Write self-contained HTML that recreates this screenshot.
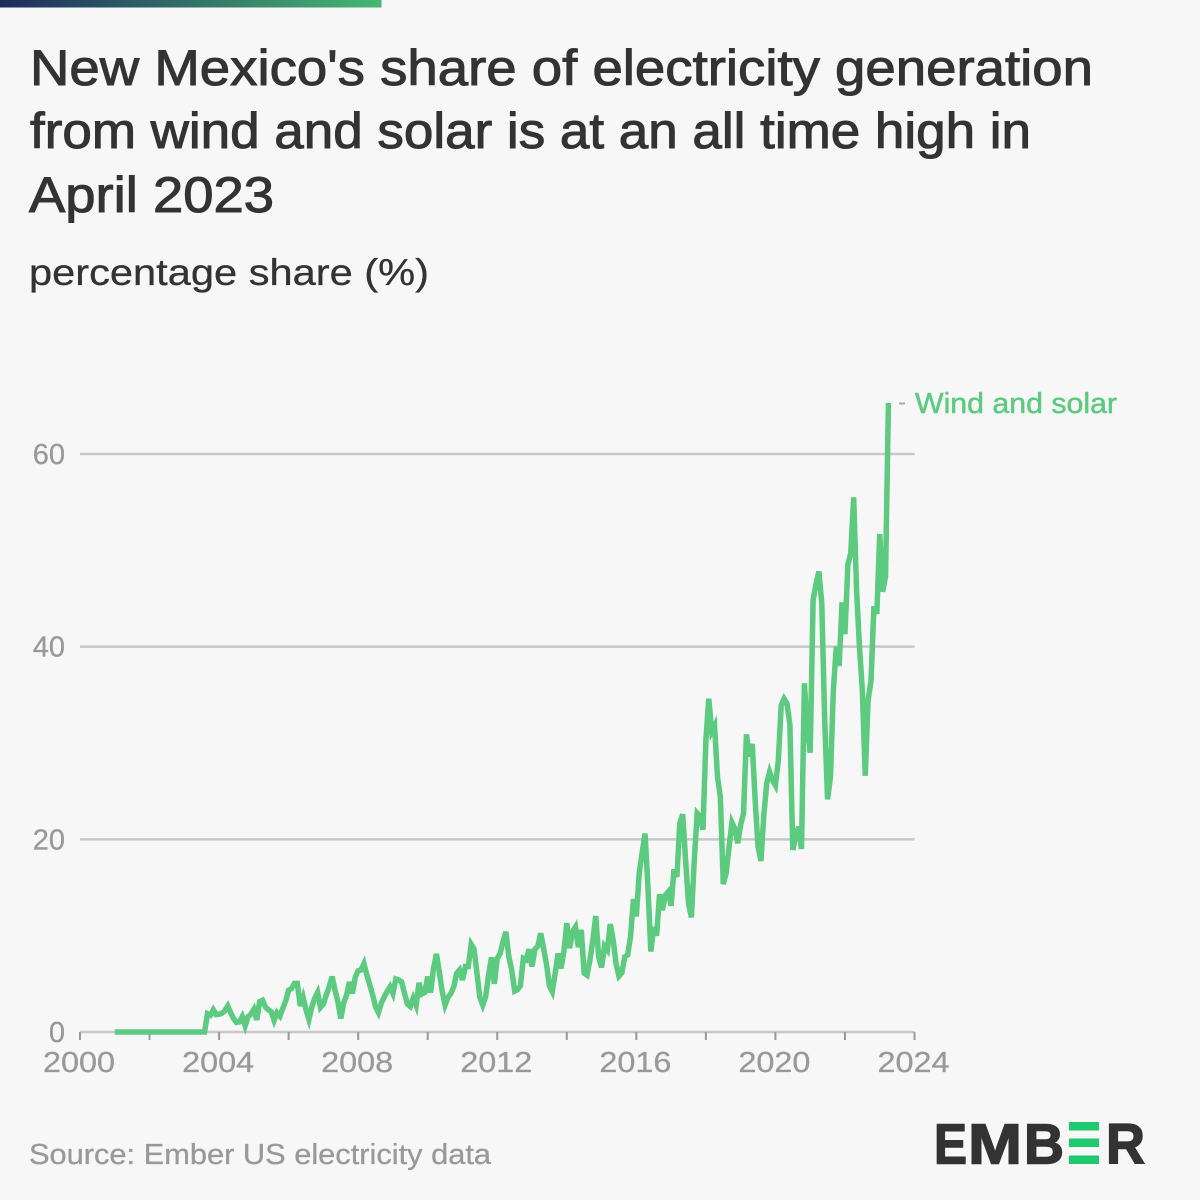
<!DOCTYPE html>
<html lang="en">
<head>
<meta charset="utf-8">
<title>New Mexico wind and solar share</title>
<style>
  html, body { margin: 0; padding: 0; background: #f7f7f7; }
  #chart-root { display: block; width: 1200px; height: 1200px; }
  text { font-family: "Liberation Sans", sans-serif; }
</style>
</head>
<body>
<svg id="chart-root" xmlns="http://www.w3.org/2000/svg" width="1200" height="1200" viewBox="0 0 1200 1200">
  <defs>
    <linearGradient id="barGrad" x1="0" y1="0" x2="1" y2="0">
      <stop offset="0" stop-color="#1e2a5e"/>
      <stop offset="1" stop-color="#47b872"/>
    </linearGradient>
  </defs>
  <rect x="0" y="0" width="1200" height="1200" fill="#f7f7f7"/>
  <rect x="0" y="0" width="381.5" height="7.5" fill="url(#barGrad)"/>

  <g fill="#333333" stroke="#333333" stroke-width="1" font-size="50">
    <text x="30" y="85" textLength="1063" lengthAdjust="spacingAndGlyphs">New Mexico's share of electricity generation</text>
    <text x="30" y="148" textLength="1001" lengthAdjust="spacingAndGlyphs">from wind and solar is at an all time high in</text>
    <text x="29" y="212" textLength="245" lengthAdjust="spacingAndGlyphs">April 2023</text>
  </g>
  <text x="29" y="285" font-size="37" fill="#333333" stroke="#333333" stroke-width="0.3" textLength="400" lengthAdjust="spacingAndGlyphs">percentage share (%)</text>

  <g id="grid-layer"></g>
  <g id="x-axis-layer"></g>
  <g id="y-axis-layer"></g>
  <path id="series-line" fill="none" stroke="#5ccb80" stroke-width="5.5" stroke-linejoin="miter"></path>
  <line id="series-leader" x1="899" x2="905" stroke="#aaaaaa" stroke-width="2"></line>
  <text id="series-label" x="915" font-size="29" fill="#5ccb80" stroke="#5ccb80" stroke-width="0.5" textLength="202" lengthAdjust="spacingAndGlyphs">Wind and solar</text>

  <text x="29" y="1164" font-size="29" fill="#999999" stroke="#999999" stroke-width="0.3" textLength="462" lengthAdjust="spacingAndGlyphs">Source: Ember US electricity data</text>

  <g fill="#333333" stroke="#333333" stroke-width="1.5" font-size="57" font-weight="bold">
    <text x="934" y="1163.5" textLength="33" lengthAdjust="spacingAndGlyphs">E</text>
    <text x="968" y="1163.5" textLength="54" lengthAdjust="spacingAndGlyphs">M</text>
    <text x="1024" y="1163.5" textLength="40" lengthAdjust="spacingAndGlyphs">B</text>
    <rect x="1069" y="1122" width="30" height="8.5" fill="#1fc96f" stroke="none"/>
    <rect x="1069" y="1138.5" width="30" height="8.5" fill="#1fc96f" stroke="none"/>
    <rect x="1069" y="1155.5" width="30" height="8.5" fill="#1fc96f" stroke="none"/>
    <text x="1106" y="1163.5" textLength="39" lengthAdjust="spacingAndGlyphs">R</text>
  </g>
</svg>

<script>
// Chart data: monthly values starting at January 2001
const seriesName = "Wind and solar";
const startYear = 2001;
const shareValues = [
  0,0,0,0,0,0,0,0,0,0,0,0,
  0,0,0,0,0,0,0,0,0,0,0,0,
  0,0,0,0,0,0,0,0,1.9,1.75,2.3,1.8,
  1.85,1.95,2.2,2.7,2.0,1.4,1.0,1.05,1.6,0.65,1.6,1.85,
  2.35,1.25,3.15,3.3,2.6,2.3,2.1,1.2,2.0,1.65,2.45,3.25,
  4.35,4.5,5.05,5.05,2.7,3.6,2.3,1.3,2.6,3.5,4.1,2.55,
  2.9,3.85,4.7,5.75,4.35,3.15,1.4,3.0,3.85,5.2,4.0,5.7,
  6.35,6.45,7.1,5.9,4.9,3.85,2.6,2.0,3.0,3.65,4.2,4.7,
  4.0,5.5,5.4,5.2,4.0,2.9,2.65,3.5,2.75,5.1,3.95,4.1,
  5.75,4.1,6.6,8.1,6.25,4.2,2.8,3.6,4.0,4.7,6.1,6.45,
  5.4,6.8,6.8,9.1,8.6,6.1,3.6,2.8,3.65,5.9,7.75,5.0,
  7.65,8.15,9.4,10.4,7.8,6.45,4.25,4.4,4.8,7.65,7.5,8.6,
  6.8,8.6,8.9,10.25,8.7,7.0,4.8,4.2,6.1,8.15,6.6,8.35,
  11.3,8.7,10.4,10.9,8.8,10.6,6.1,5.9,7.5,9.55,12.05,7.8,
  6.7,8.9,8.5,11.2,9.55,7.1,5.8,6.15,7.8,8.0,9.9,13.8,
  12.0,16.5,18.6,20.6,15.1,8.35,10.9,10.0,14.3,12.65,14.2,14.55,
  13.1,16.9,16.1,21.7,22.6,17.85,13.35,11.9,17.85,22.7,22.35,21.0,
  30.3,34.6,31.2,31.8,26.5,24.4,15.35,16.5,19.2,21.75,21.1,19.6,
  21.5,22.7,30.9,28.6,29.9,24.1,19.25,17.75,22.5,25.8,27.0,26.15,
  25.6,28.2,33.9,34.6,34.1,31.9,18.9,20.3,21.3,19.0,36.2,31.5,
  29.0,44.8,46.5,47.8,44.5,32.4,24.15,26.5,35.5,40.0,38.0,44.6,
  41.3,48.5,49.7,55.5,45.9,40.0,35.5,26.6,34.5,36.5,44.2,43.4,
  51.7,45.7,47.3,65.3
];
const yTickValues = [0, 20, 40, 60];
const xTickYears = [2000, 2002, 2004, 2006, 2008, 2010, 2012, 2014, 2016, 2018, 2020, 2022, 2024];
const xLabelYears = [2000, 2004, 2008, 2012, 2016, 2020, 2024];

// Axis functions
const plotLeft = 80, plotRight = 914.5, plotBottom = 1032, pxPerUnit = 9.633;
const domainStart = 2000, domainEnd = 2024;
function xScale(year) {
  return plotLeft + (year - domainStart) / (domainEnd - domainStart) * (plotRight - plotLeft);
}
function yScale(value) {
  return plotBottom - value * pxPerUnit;
}

const NS = "http://www.w3.org/2000/svg";
const gridLayer = document.getElementById("grid-layer");
const xLayer = document.getElementById("x-axis-layer");
const yLayer = document.getElementById("y-axis-layer");

yTickValues.forEach(function (v) {
  const line = document.createElementNS(NS, "line");
  
  
  line.setAttribute("x1", plotLeft);
  line.setAttribute("x2", plotRight);
  line.setAttribute("y1", yScale(v));
  line.setAttribute("y2", yScale(v));
  line.setAttribute("stroke", "#c8c8c8");
  line.setAttribute("stroke-width", "2.5");
  gridLayer.appendChild(line);

  const label = document.createElementNS(NS, "text");
  
  
  label.setAttribute("x", 65);
  label.setAttribute("y", yScale(v) + 10);
  label.setAttribute("text-anchor", "end");
  label.setAttribute("font-size", "29");
  label.setAttribute("fill", "#999999");
  label.setAttribute("stroke", "#999999");
  label.setAttribute("stroke-width", "0.3");
  label.textContent = String(v);
  yLayer.appendChild(label);
});

xTickYears.forEach(function (yr) {
  const tick = document.createElementNS(NS, "line");
  
  
  tick.setAttribute("x1", xScale(yr));
  tick.setAttribute("x2", xScale(yr));
  tick.setAttribute("y1", plotBottom);
  tick.setAttribute("y2", plotBottom + 8);
  tick.setAttribute("stroke", "#999999");
  tick.setAttribute("stroke-width", "2");
  xLayer.appendChild(tick);
});

xLabelYears.forEach(function (yr) {
  const label = document.createElementNS(NS, "text");
  
  
  label.setAttribute("x", xScale(yr) - 1);
  label.setAttribute("y", 1072);
  label.setAttribute("text-anchor", "middle");
  label.setAttribute("font-size", "29");
  label.setAttribute("fill", "#999999");
  label.setAttribute("stroke", "#999999");
  label.setAttribute("stroke-width", "0.3");
  label.setAttribute("textLength", "72");
  label.setAttribute("lengthAdjust", "spacingAndGlyphs");
  label.textContent = String(yr);
  xLayer.appendChild(label);
});

const pathData = shareValues.map(function (v, i) {
  return (i === 0 ? "M" : "L") + xScale(startYear + i / 12).toFixed(2) + " " + yScale(v).toFixed(2);
}).join(" ");
document.getElementById("series-line").setAttribute("d", pathData);

const lastValue = shareValues[shareValues.length - 1];
const leader = document.getElementById("series-leader");
leader.setAttribute("y1", yScale(lastValue) + 0.5);
leader.setAttribute("y2", yScale(lastValue) + 0.5);
const seriesLabel = document.getElementById("series-label");
seriesLabel.setAttribute("y", yScale(lastValue) + 10);
seriesLabel.textContent = seriesName;
</script>
</body>
</html>
